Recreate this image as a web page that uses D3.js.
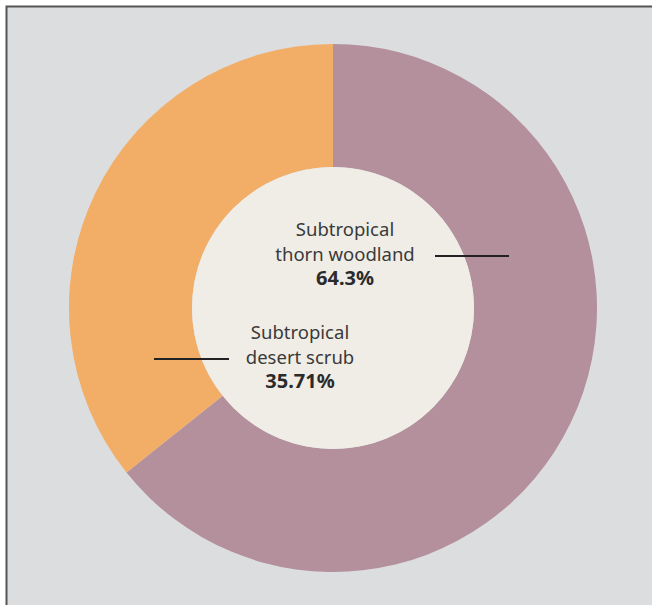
<!DOCTYPE html>
<html>
<head>
<meta charset="utf-8">
<script src="https://cdn.jsdelivr.net/npm/d3@7"></script>
<style>
  body { margin: 0; background: #fff; }
  svg { display: block; }
  .lbl { font-family: "Noto Sans", sans-serif; font-size: 18.5px; fill: #3a3a3a; }
  .pct { font-weight: bold; font-size: 20px; fill: #2b2b2b; }
</style>
</head>
<body>
<div id="chart"></div>
<script>
// data
var categories = ["Subtropical thorn woodland", "Subtropical desert scrub"];
var labelLines = [["Subtropical", "thorn woodland"], ["Subtropical", "desert scrub"]];
var values = [64.3, 35.71];
var pctLabels = ["64.3%", "35.71%"];
var colors = ["#b48f9c", "#f2ad66"];

var svgWidth = 652;
var svgHeight = 605;

var svg = d3.select("#chart").append("svg")
  .attr("width", svgWidth)
  .attr("height", svgHeight);

// panel with top/left border
svg.append("rect")
  .attr("x", 6).attr("y", 7)
  .attr("width", svgWidth - 6).attr("height", svgHeight - 7)
  .attr("fill", "#dcdddf");
svg.append("path")
  .attr("d", `M6.5,${svgHeight} V6.5 H${svgWidth}`)
  .attr("fill", "none")
  .attr("stroke", "#555")
  .attr("stroke-width", 2);

var cx = 333, cy = 308;
var outerR = 264, innerR = 141;

var g = svg.append("g").attr("transform", `translate(${cx}, ${cy})`);

var pie = d3.pie().sort(null).value(d => d);
var arc = d3.arc().innerRadius(innerR).outerRadius(outerR);

g.selectAll("path.slice")
  .data(pie(values))
  .enter()
  .append("path")
  .attr("class", "slice")
  .attr("d", arc)
  .attr("fill", (d, i) => colors[i]);

g.append("circle")
  .attr("r", innerR)
  .attr("fill", "#f0ede7");

// annotations: leader line + text
var annot = [
  { lineX: [102, 176], lineY: -52, textX: 12, textY: -72 },
  { lineX: [-179, -104], lineY: 51, textX: -33, textY: 31 }
];

annot.forEach(function(a, i) {
  g.append("line")
    .attr("x1", a.lineX[0]).attr("x2", a.lineX[1])
    .attr("y1", a.lineY).attr("y2", a.lineY)
    .attr("stroke", "#222")
    .attr("stroke-width", 2);

  var t = g.append("text")
    .attr("class", "lbl")
    .attr("text-anchor", "middle");
  labelLines[i].forEach(function(s, j) {
    t.append("tspan")
      .attr("x", a.textX)
      .attr("y", a.textY + j * 24.5)
      .text(s);
  });
  t.append("tspan")
    .attr("class", "pct")
    .attr("x", a.textX)
    .attr("y", a.textY + 2 * 24.5)
    .text(pctLabels[i]);
});
</script>
</body>
</html>
